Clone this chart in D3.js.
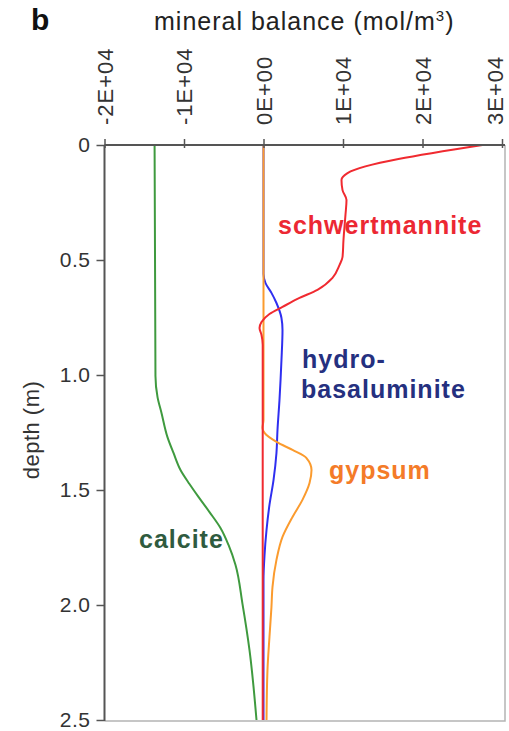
<!DOCTYPE html>
<html>
<head>
<meta charset="utf-8">
<script src="https://cdn.jsdelivr.net/npm/d3@7"></script>
<style>
  html, body { margin: 0; padding: 0; background: #fff; }
  svg { display: block; font-family: "Liberation Sans", Arial, sans-serif; }
</style>
</head>
<body>
<svg width="509" height="731"></svg>
<script>
// depth (m) and mineral balance (mol/m3)
var calciteDepth = [0, 1.004, 1.096, 1.165, 1.27, 1.339, 1.413, 1.474, 1.53, 1.596, 1.665, 1.739, 1.826, 1.996, 2.196, 2.5];
var calciteVal = [-13700, -13590, -13330, -12830, -12080, -11320, -10440, -9310, -8180, -6790, -5410, -4400, -3520, -2640, -1760, -880];

var schwertDepth = [0, 0.122, 0.152, 0.196, 0.239, 0.304, 0.413, 0.487, 0.522, 0.578, 0.63, 0.665, 0.704, 0.735, 0.77, 0.796, 0.826, 0.87, 1.5, 2.5];
var schwertVal = [27550, 10570, 9810, 9940, 10440, 10310, 10060, 9940, 9560, 8680, 6790, 4530, 2390, 750, -250, -500, -250, -100, -100, -100];

var hydroDepth = [0, 0.56, 0.6, 0.643, 0.687, 0.752, 0.804, 0.935, 1.109, 1.239, 1.339, 1.457, 1.565, 1.674, 1.783, 1.891, 2.5];
var hydroVal = [0, 0, 250, 1000, 1630, 2260, 2390, 2260, 2010, 1760, 1630, 1260, 750, 380, 130, 0, 0];

var gypsumDepth = [0, 1.196, 1.23, 1.252, 1.291, 1.326, 1.361, 1.413, 1.47, 1.543, 1.617, 1.704, 1.804, 1.922, 2.009, 2.139, 2.283, 2.5];
var gypsumVal = [0, 0, -130, 130, 1630, 3650, 5410, 6040, 5790, 4900, 3650, 2390, 1630, 1130, 1000, 750, 500, 380];

var xTicks = [-20000, -10000, 0, 10000, 20000, 30000];
var xTickLabels = ['-2E+04', '-1E+04', '0E+00', '1E+04', '2E+04', '3E+04'];
var yTicks = [0, 0.5, 1.0, 1.5, 2.0, 2.5];
var yTickLabels = ['0', '0.5', '1.0', '1.5', '2.0', '2.5'];

var svg = d3.select('svg'),
  margin = { top: 145, left: 104.5 },
  plotRight = 505,
  plotBottom = 721;

var xScale = d3.scaleLinear().domain([-20000, 30000]).range([104.5, 502]);
var yScale = d3.scaleLinear().domain([0, 2.5]).range([145, 720]);

// light frame on the right and bottom
svg.append('path')
  .attr('d', 'M' + xScale(-20000) + ',' + plotBottom + 'H' + plotRight + 'V' + margin.top)
  .attr('fill', 'none')
  .attr('stroke', '#b4b4b4')
  .attr('stroke-width', 1.5);

function series(depths, vals) {
  return depths.map((d, i) => ({ depth: d, val: vals[i] }));
}

var line = d3.line()
  .x((d) => xScale(d.val))
  .y((d) => yScale(d.depth))
  .curve(d3.curveMonotoneY);

var curves = [
  { data: series(calciteDepth, calciteVal), color: '#3f9a3f' },
  { data: series(hydroDepth, hydroVal), color: '#2f2ff0' },
  { data: series(gypsumDepth, gypsumVal), color: '#fb9b2e' },
  { data: series(schwertDepth, schwertVal), color: '#f02a30' }
];

svg.selectAll('path.curve')
  .data(curves)
  .enter()
  .append('path')
  .attr('class', 'curve')
  .attr('d', (c) => line(c.data))
  .attr('fill', 'none')
  .attr('stroke', (c) => c.color)
  .attr('stroke-width', 2);

// axes
var xAxis = d3.axisTop(xScale)
  .tickValues(xTicks)
  .tickFormat((d, i) => xTickLabels[i])
  .tickSizeInner(6)
  .tickSizeOuter(0);
var gx = svg.append('g').attr('transform', 'translate(0,' + margin.top + ')');
xAxis(gx);
gx.select('.domain').attr('stroke', '#555').attr('stroke-width', 2)
  .attr('d', 'M' + xScale(-20000) + ',0H' + plotRight);
gx.selectAll('.tick line').attr('stroke', '#555').attr('stroke-width', 1.5).attr('y2', -6).attr('y1', 3);
// labels read upward, ending just above the axis; last one nudged in from the edge
gx.selectAll('.tick text')
  .attr('transform', 'rotate(-90)')
  .attr('x', 20)
  .attr('y', (d, i) => (i === xTicks.length - 1 ? -7 : 0))
  .attr('dy', '0.35em')
  .attr('text-anchor', 'start')
  .attr('fill', '#333')
  .style('font-size', '22px')
  .style('letter-spacing', '1px');

var yAxis = d3.axisLeft(yScale)
  .tickValues(yTicks)
  .tickFormat((d, i) => yTickLabels[i])
  .tickSizeInner(8)
  .tickSizeOuter(0);
var gy = svg.append('g').attr('transform', 'translate(' + margin.left + ',0)');
yAxis(gy);
gy.select('.domain').attr('stroke', '#555').attr('stroke-width', 2)
  .attr('d', 'M0,' + margin.top + 'V' + plotBottom);
gy.selectAll('.tick line').attr('stroke', '#555').attr('stroke-width', 1.5);
gy.selectAll('.tick text')
  .attr('x', -14)
  .attr('fill', '#333')
  .style('font-size', '21px')
  .style('letter-spacing', '0.5px');
gx.attr('font-family', null).attr('font-size', null);
gy.attr('font-family', null).attr('font-size', null);

// titles
svg.append('text')
  .attr('x', 31).attr('y', 30)
  .attr('font-weight', 'bold')
  .attr('font-size', 30)
  .attr('fill', '#111')
  .text('b');

var title = svg.append('text')
  .attr('x', 154).attr('y', 30)
  .attr('font-size', 25)
  .attr('letter-spacing', '1px')
  .attr('fill', '#222');
title.append('tspan').text('mineral balance (mol/m');
title.append('tspan').attr('font-size', 15).attr('dy', -9).text('3');
title.append('tspan').attr('dy', 9).text(')');

svg.append('text')
  .attr('transform', 'translate(39,430) rotate(-90)')
  .attr('text-anchor', 'middle')
  .attr('font-size', 22)
  .attr('letter-spacing', '0.5px')
  .attr('fill', '#333')
  .text('depth (m)');

// curve labels
var labels = [
  { text: 'schwertmannite', x: 278, y: 234, color: '#ec2833' },
  { text: 'hydro-', x: 302, y: 368, color: '#25307f' },
  { text: 'basaluminite', x: 301, y: 398, color: '#25307f' },
  { text: 'gypsum', x: 329, y: 479, color: '#f47b28' },
  { text: 'calcite', x: 139, y: 548, color: '#2f5b3f' }
];
svg.selectAll('text.label')
  .data(labels)
  .enter()
  .append('text')
  .attr('class', 'label')
  .attr('x', (d) => d.x)
  .attr('y', (d) => d.y)
  .attr('fill', (d) => d.color)
  .attr('font-weight', 'bold')
  .attr('font-size', 25)
  .attr('letter-spacing', '1px')
  .text((d) => d.text);
</script>
</body>
</html>
